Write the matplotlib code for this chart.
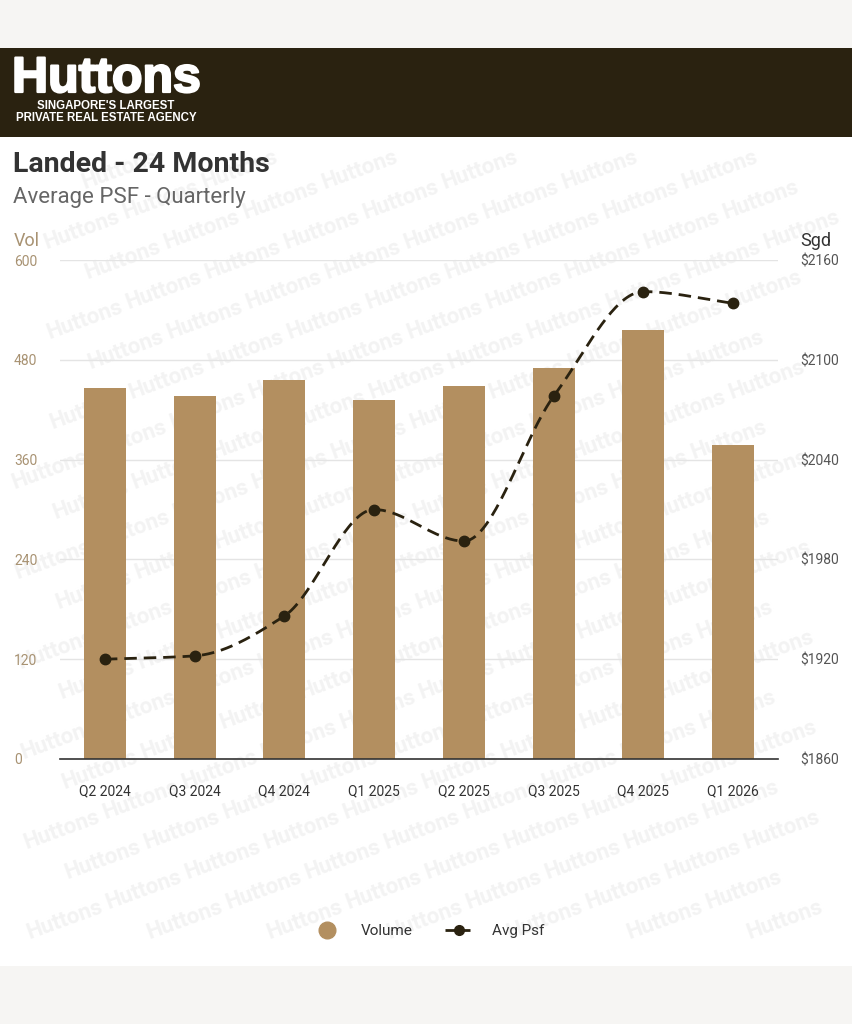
import numpy as np
import matplotlib
matplotlib.use("Agg")
import matplotlib.pyplot as plt
import matplotlib.patheffects as pe
from matplotlib.patches import Rectangle
from matplotlib.lines import Line2D

plt.rcParams['font.family'] = ['Roboto', 'DejaVu Sans']

# data
quarters = ["Q2 2024", "Q3 2024", "Q4 2024", "Q1 2025", "Q2 2025", "Q3 2025", "Q4 2025", "Q1 2026"]
volume = [446, 436, 456, 432, 448, 470, 516, 378]
avg_psf = [1920, 1922, 1946, 2010, 1991, 2078, 2141, 2134]
vol_ticks = [0, 120, 240, 360, 480, 600]
psf_ticks = [1860, 1920, 1980, 2040, 2100, 2160]

BAR = '#b38f60'
DARK = '#2a2210'
W, H = 853, 1024


def fx(px):
    return px / W


def fy(py):
    return 1 - py / H


def monotone(x, y, n=40):
    # Fritsch-Carlson monotone cubic, only used to draw the smooth line
    x = np.asarray(x, float)
    y = np.asarray(y, float)
    d = np.diff(y) / np.diff(x)
    m = np.zeros_like(y)
    m[0], m[-1] = d[0], d[-1]
    for i in range(1, len(y) - 1):
        if d[i - 1] * d[i] <= 0:
            m[i] = 0
        else:
            m[i] = 2 / (1 / d[i - 1] + 1 / d[i])
    xs, ys = [], []
    for i in range(len(x) - 1):
        h = x[i + 1] - x[i]
        t = np.linspace(0, 1, n)
        h00 = 2 * t**3 - 3 * t**2 + 1
        h10 = t**3 - 2 * t**2 + t
        h01 = -2 * t**3 + 3 * t**2
        h11 = t**3 - t**2
        xs.append(x[i] + t * h)
        ys.append(h00 * y[i] + h10 * h * m[i] + h01 * y[i + 1] + h11 * h * m[i + 1])
    return np.concatenate(xs), np.concatenate(ys)


fig = plt.figure(figsize=(W / 100, H / 100), dpi=100)
fig.patch.set_facecolor('#f6f5f3')

# white card + header band
fig.patches.append(Rectangle((0, fy(966)), 1, fy(137) - fy(966), transform=fig.transFigure,
                             facecolor='white', edgecolor='none', zorder=0))
fig.patches.append(Rectangle((0, fy(137)), 1, fy(48) - fy(137), transform=fig.transFigure,
                             facecolor=DARK, edgecolor='none', zorder=0))

# faint watermark, kept inside the card
wm = fig.add_axes([0, fy(966), 1, fy(137) - fy(966)], zorder=0.5)
wm.set_xlim(0, W)
wm.set_ylim(966, 137)
wm.axis('off')
for row, yy in enumerate(range(170, 940, 30)):
    off = (row * 41) % 120
    for xx in range(off - 120, W - 50, 120):
        if xx < 50:
            continue
        wm.text(xx, yy, "Huttons", fontsize=16, fontweight='bold', color='#f3f3f3',
                rotation=20, ha='center', va='center', zorder=0)

fig.text(fx(12), fy(79), "Huttons", fontsize=36, fontweight='bold', color='white',
         ha='left', va='center', family=['Liberation Sans'],
         path_effects=[pe.withStroke(linewidth=1.6, foreground='white')])
fig.text(fx(106), fy(106), "SINGAPORE'S LARGEST", fontsize=8.3, fontweight='bold',
         color='white', ha='center', va='center', family=['Liberation Sans'])
fig.text(fx(106), fy(118), "PRIVATE REAL ESTATE AGENCY", fontsize=8.3, fontweight='bold',
         color='white', ha='center', va='center', family=['Liberation Sans'])

fig.text(fx(13), fy(165), "Landed - 24 Months", fontsize=20.5, fontweight='bold',
         color='#333333', ha='left', va='center')
fig.text(fx(13), fy(197), "Average PSF - Quarterly", fontsize=16, color='#666666',
         ha='left', va='center')

ax = fig.add_axes([fx(60), fy(759), fx(778) - fx(60), fy(260) - fy(759)], zorder=2)
ax.patch.set_alpha(0)
x = np.arange(len(quarters))
ax.bar(x, volume, width=0.47, color=BAR, zorder=2)
ax.set_xlim(-0.5, len(quarters) - 0.5)
ax.set_ylim(0, 600)
ax.set_yticks(vol_ticks)
ax.set_xticks(x)
ax.set_xticklabels(quarters)
ax.grid(axis='y', color='#e4e4e4', linewidth=1, zorder=0)
for s in ['top', 'right', 'left']:
    ax.spines[s].set_visible(False)
ax.spines['bottom'].set_color('#333333')
ax.spines['bottom'].set_linewidth(1.2)
ax.tick_params(axis='y', length=0, labelsize=10, labelcolor='#a89272', pad=0)
ax.tick_params(axis='x', length=0, labelsize=10, labelcolor='#333333', pad=18)
for lab in ax.get_yticklabels():
    lab.set_horizontalalignment('left')
    lab.set_x((fx(14) - fx(60)) / (fx(778) - fx(60)))

ax2 = ax.twinx()
ax2.set_ylim(psf_ticks[0], psf_ticks[-1])
ax2.set_yticks(psf_ticks)
ax2.set_yticklabels([f"${v}" for v in psf_ticks])
for s in ['top', 'right', 'left', 'bottom']:
    ax2.spines[s].set_visible(False)
ax2.tick_params(axis='y', length=0, labelsize=10, labelcolor='#555555', pad=16)
sx, sy = monotone(x, avg_psf)
ax2.plot(sx, sy, color=DARK, linewidth=2, linestyle=(0, (4.5, 2.5)), zorder=3)
ax2.plot(x, avg_psf, 'o', color=DARK, markersize=7.5, zorder=4)

fig.text(fx(14), fy(241), "Vol", fontsize=13, color='#a89272', ha='left', va='center')
fig.text(fx(800), fy(241), "Sgd", fontsize=13, color='#333333', ha='left', va='center')

handles = [Line2D([], [], marker='o', linestyle='none', color=BAR, markersize=12),
           Line2D([], [], marker='o', linestyle='--', color=DARK, markersize=7, linewidth=2)]
fig.legend(handles, ["Volume", "Avg Psf"], loc='center', bbox_to_anchor=(fx(429), fy(931)),
           ncol=2, frameon=False, fontsize=11, handlelength=1.8, columnspacing=2.1,
           handletextpad=1.3, labelcolor='#333333')

fig.savefig("out.png", dpi=100)
